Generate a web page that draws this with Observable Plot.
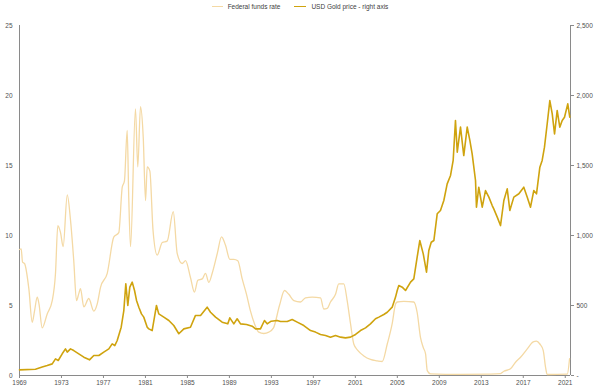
<!DOCTYPE html>
<html>
<head>
<meta charset="utf-8">
<script src="https://cdn.jsdelivr.net/npm/d3@7"></script>
<script src="https://cdn.jsdelivr.net/npm/@observablehq/plot@0.6"></script>
<style>
  html, body { margin: 0; padding: 0; background: #fff; }
  #wrap { position: relative; width: 600px; height: 392px; font-family: "Liberation Sans", Arial, sans-serif; }
  #legend { position: absolute; top: 3px; left: 0; width: 600px; display: flex; justify-content: center; align-items: center; font-size: 6.5px; color: #404040; }
  .sw { display: inline-block; width: 11px; height: 0; margin-right: 5px; }
  .item { display: flex; align-items: center; margin: 0 7px; }
</style>
</head>
<body>
<div id="wrap">
  <div id="legend"></div>
  <div id="chart"></div>
</div>
<script>
const seriesNames = ["Federal funds rate", "USD Gold price - right axis"];
const seriesColors = ["#F4D9A4", "#CFA30E"];

const fedYears = [1969.00,1969.16,1969.29,1969.48,1969.89,1970.21,1970.43,1970.69,1970.86,1971.16,1971.64,1972.12,1972.43,1972.65,1972.91,1973.16,1973.55,1973.86,1974.17,1974.43,1974.65,1974.81,1975.13,1975.60,1976.08,1976.40,1976.72,1977.36,1977.99,1978.46,1978.79,1979.00,1979.26,1979.41,1979.58,1980.05,1980.27,1980.53,1980.79,1981.01,1981.17,1981.42,1981.72,1982.12,1982.60,1983.07,1983.65,1984.03,1984.50,1984.82,1985.29,1985.67,1985.99,1986.41,1986.72,1987.04,1987.36,1987.84,1988.25,1988.63,1989.04,1989.42,1989.80,1990.22,1990.63,1991.01,1991.39,1991.80,1992.28,1992.75,1993.20,1993.77,1994.25,1994.66,1995.14,1995.77,1996.25,1996.89,1997.68,1997.99,1998.32,1998.63,1999.11,1999.42,1999.90,2000.22,2000.54,2000.85,2001.23,2001.81,2002.44,2003.08,2003.56,2004.04,2004.51,2004.83,2004.99,2005.62,2006.57,2006.89,2007.21,2007.47,2007.69,2007.85,2008.16,2011.02,2013.88,2014.83,2015.15,2015.78,2016.26,2016.74,2017.38,2017.95,2018.26,2018.58,2018.90,2019.12,2019.28,2021.19,2021.41];
const fedRate = [9.0,9.05,8.1,8.0,6.2,3.8,4.6,5.6,5.1,3.4,4.4,5.35,7.3,10.7,10.2,9.2,12.9,11.1,8.2,5.35,5.85,6.2,4.9,5.5,4.6,5.1,6.3,7.3,9.9,10.2,13.45,13.9,17.5,12.7,9.2,19.05,14.9,19.2,17.0,12.5,14.9,14.6,10.4,8.6,9.5,9.6,11.7,8.7,8.0,8.2,7.0,5.95,6.8,6.9,7.3,6.65,7.3,8.7,9.9,9.3,8.3,8.3,8.2,6.9,5.8,4.6,3.7,3.1,3.0,3.1,3.4,5.0,6.07,5.8,5.35,5.25,5.55,5.6,5.55,4.75,4.8,5.25,5.8,6.55,6.55,5.35,3.7,2.25,1.8,1.4,1.15,1.05,1.0,2.25,3.7,5.1,5.25,5.3,5.25,4.5,2.7,2.0,1.55,0.35,0.12,0.08,0.1,0.13,0.3,0.48,0.95,1.3,1.9,2.4,2.45,2.25,1.8,0.6,0.07,0.1,1.2];

const goldYears = [1969.00,1970.52,1971.16,1971.64,1972.12,1972.43,1972.69,1973.07,1973.38,1973.55,1973.86,1974.17,1974.65,1975.13,1975.67,1976.08,1976.56,1977.03,1977.51,1977.83,1978.08,1978.31,1978.69,1978.94,1979.13,1979.32,1979.51,1979.74,1979.96,1980.15,1980.37,1980.62,1980.84,1981.17,1981.32,1981.64,1981.86,1982.05,1982.27,1982.75,1983.23,1983.70,1984.18,1984.66,1985.29,1985.77,1986.25,1986.88,1987.20,1987.68,1988.31,1988.85,1989.04,1989.42,1989.74,1990.06,1990.63,1991.17,1991.49,1991.96,1992.34,1992.60,1992.98,1993.55,1993.87,1994.51,1994.98,1995.46,1996.09,1996.73,1997.20,1997.68,1998.16,1998.63,1999.11,1999.59,2000.06,2000.54,2001.02,2001.49,2001.97,2002.44,2002.92,2003.24,2003.71,2004.04,2004.51,2004.83,2004.99,2005.14,2005.47,2005.78,2006.26,2006.57,2006.89,2007.14,2007.47,2007.78,2008.00,2008.23,2008.48,2008.80,2009.11,2009.43,2009.75,2010.07,2010.32,2010.54,2010.71,2011.02,2011.33,2011.66,2011.91,2012.13,2012.45,2012.54,2012.76,2013.09,2013.40,2013.72,2014.04,2014.19,2014.52,2014.83,2015.15,2015.47,2015.72,2016.10,2016.58,2017.05,2017.38,2017.69,2018.00,2018.26,2018.58,2018.80,2019.02,2019.28,2019.53,2019.76,2019.98,2020.23,2020.48,2020.71,2020.93,2021.24,2021.43];
const goldPrice = [40,45,60,71,83,119,107,155,190,167,190,178,155,131,112,143,143,167,190,226,214,250,345,464,655,500,631,667,607,536,488,440,417,345,333,321,417,500,440,417,393,357,298,333,345,429,429,488,452,417,381,369,412,369,405,369,364,352,333,333,393,369,388,393,386,386,400,381,357,321,310,293,286,274,286,274,269,274,293,321,340,369,405,417,436,452,488,560,607,643,631,607,667,690,845,964,869,738,893,952,964,1155,1179,1250,1369,1429,1536,1821,1595,1774,1571,1774,1679,1583,1393,1202,1345,1202,1321,1274,1214,1190,1131,1071,1250,1333,1179,1274,1298,1345,1274,1202,1321,1298,1488,1536,1631,1798,1964,1869,1726,1893,1774,1821,1845,1940,1845];

const xTicks = [1969,1973,1977,1981,1985,1989,1993,1997,2001,2005,2009,2013,2017,2021];
const leftTicks = [0,5,10,15,20,25];
const rightTicks = [0,500,1000,1500,2000,2500];

const fed = fedYears.map((y, i) => ({year: y, value: fedRate[i]}));
const gold = goldYears.map((y, i) => ({year: y, value: goldPrice[i]}));
const ratio = 100; // right axis units per left axis unit

// legend
const legend = document.getElementById("legend");
seriesNames.forEach((n, i) => {
  const it = document.createElement("span");
  it.className = "item";
  const sw = document.createElement("span");
  sw.className = "sw";
  sw.style.borderTop = (i === 0 ? "1.3px" : "1.6px") + " solid " + seriesColors[i];
  if (i === 1) sw.style.width = "12px";
  it.appendChild(sw);
  const t = document.createElement("span");
  t.textContent = n;
  it.appendChild(t);
  legend.appendChild(it);
});

const axisColor = "#8a8a8a";
const chart = Plot.plot({
  width: 600,
  height: 392,
  marginLeft: 19,
  marginRight: 30,
  marginTop: 25,
  marginBottom: 17,
  style: {fontFamily: "Liberation Sans, Arial, sans-serif", fontSize: "6.5px", color: "#505050", background: "transparent"},
  x: {domain: [1969, 2021.5]},
  y: {domain: [0, 25]},
  marks: [
    Plot.ruleY([0], {stroke: axisColor, strokeWidth: 1}),
    Plot.ruleX([1969], {stroke: axisColor, strokeWidth: 1}),
    Plot.ruleX([2021.5], {stroke: axisColor, strokeWidth: 1}),
    Plot.axisX({ticks: xTicks, tickFormat: d => String(d), tickSize: 3, tickPadding: 2, stroke: axisColor, label: null}),
    Plot.axisY({anchor: "left", ticks: leftTicks, tickSize: 0, tickPadding: 7, label: null}),
    Plot.axisY({anchor: "right", ticks: rightTicks.map(d => d / ratio), tickSize: 3, tickPadding: 3, stroke: axisColor, label: null,
      tickFormat: d => d === 0 ? "-" : d3.format(",")(Math.round(d * ratio))}),
    Plot.line(fed, {x: "year", y: "value", stroke: seriesColors[0], strokeWidth: 1.3, curve: "monotone-x"}),
    Plot.line(gold, {x: "year", y: d => d.value / ratio, stroke: seriesColors[1], strokeWidth: 1.6})
  ]
});
document.getElementById("chart").appendChild(chart);
</script>
</body>
</html>
